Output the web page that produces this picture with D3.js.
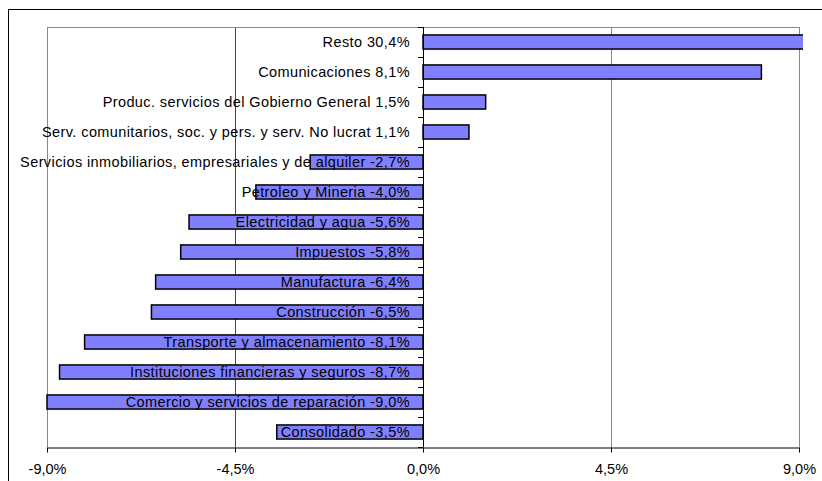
<!DOCTYPE html>
<html>
<head>
<meta charset="utf-8">
<script src="https://cdn.jsdelivr.net/npm/d3@7.9.0/dist/d3.min.js"></script>
<style>
  body { margin: 0; background: #fff; }
  svg { display: block; font-family: "Liberation Sans", Arial, sans-serif; }
</style>
</head>
<body>
<svg id="chart"></svg>
<script>
// sector names and their growth (%), top to bottom
const categories = [
  "Resto",
  "Comunicaciones",
  "Produc. servicios del Gobierno General",
  "Serv. comunitarios, soc. y pers. y serv. No lucrat",
  "Servicios inmobiliarios, empresariales y de alquiler",
  "Petroleo y Mineria",
  "Electricidad y agua",
  "Impuestos",
  "Manufactura",
  "Construcción",
  "Transporte y almacenamiento",
  "Instituciones financieras y seguros",
  "Comercio y servicios de reparación",
  "Consolidado"
];
const values = [30.4, 8.1, 1.5, 1.1, -2.7, -4.0, -5.6, -5.8, -6.4, -6.5, -8.1, -8.7, -9.0, -3.5];
const xTicks = [-9, -4.5, 0, 4.5, 9];

const width = 822;
const height = 481;
const margin = { top: 27, right: 23, bottom: 34, left: 47 };

const fmt = v => v.toFixed(1).replace('.', ',') + '%';

const svg = d3.select('#chart')
  .attr('width', width)
  .attr('height', height);

// outer chart border (runs off the right/bottom edge)
svg.append('rect')
  .attr('x', 8.5).attr('y', 9.5)
  .attr('width', width).attr('height', height)
  .attr('fill', 'none')
  .attr('stroke', '#000');

const x = d3.scaleLinear()
  .domain([-9, 9])
  .range([margin.left, width - margin.right]);

const y = d3.scaleBand()
  .domain(categories)
  .range([margin.top, height - margin.bottom])
  .paddingInner(0.53)
  .paddingOuter(0.265);

const plotTop = margin.top, plotBottom = height - margin.bottom;

// gridlines + plot frame
svg.append('g')
  .selectAll('line')
  .data(xTicks.filter(d => d !== 0))
  .join('line')
  .attr('x1', d => Math.round(x(d)) + 0.5)
  .attr('x2', d => Math.round(x(d)) + 0.5)
  .attr('y1', plotTop)
  .attr('y2', plotBottom)
  .attr('stroke', d => d === -4.5 ? '#444' : '#888');

svg.append('line')
  .attr('x1', x(-9)).attr('x2', x(9))
  .attr('y1', plotTop + 0.5).attr('y2', plotTop + 0.5)
  .attr('stroke', '#888');

// bars, clipped at the plot edge
svg.append('clipPath').attr('id', 'clip')
  .append('rect')
  .attr('x', 0).attr('y', 0)
  .attr('width', x(9) + 4).attr('height', height);

svg.append('g')
  .attr('clip-path', 'url(#clip)')
  .selectAll('rect')
  .data(values)
  .join('rect')
  .attr('x', d => x(Math.min(0, d)))
  .attr('y', (d, i) => y(categories[i]))
  .attr('width', d => Math.abs(x(d) - x(0)))
  .attr('height', y.bandwidth())
  .attr('fill', '#8080ff')
  .attr('stroke', '#000')
  .attr('stroke-width', 1.5);

// x axis
const xAxis = svg.append('g')
  .attr('transform', `translate(0,${plotBottom + 0.5})`)
  .call(d3.axisBottom(x).tickValues(xTicks).tickFormat(fmt).tickSize(5).tickSizeOuter(0));
xAxis.select('.domain').attr('stroke', '#000');
xAxis.selectAll('.tick line').attr('stroke', '#000');
xAxis.selectAll('.tick text')
  .attr('font-family', '"Liberation Sans", Arial, sans-serif')
  .attr('font-size', 14.5)
  .attr('fill', '#000')
  .attr('dy', '1.3em');

// zero line with category ticks
svg.append('line')
  .attr('x1', x(0) + 0.5).attr('x2', x(0) + 0.5)
  .attr('y1', plotTop).attr('y2', plotBottom)
  .attr('stroke', '#000');

svg.append('g')
  .selectAll('line')
  .data(d3.range(categories.length + 1))
  .join('line')
  .attr('x1', x(0) - 5).attr('x2', x(0))
  .attr('y1', i => Math.round(plotTop + i * y.step()) + 0.5)
  .attr('y2', i => Math.round(plotTop + i * y.step()) + 0.5)
  .attr('stroke', '#000');

// labels sitting on top of the bars
svg.append('g')
  .selectAll('text')
  .data(values)
  .join('text')
  .attr('x', x(0) - 13)
  .attr('y', (d, i) => y(categories[i]) + y.bandwidth() / 2)
  .attr('dy', '0.36em')
  .attr('text-anchor', 'end')
  .attr('font-size', 14.5)
  .attr('letter-spacing', 0.4)
  .attr('fill', '#000')
  .text((d, i) => `${categories[i]} ${fmt(d)}`);
</script>
</body>
</html>
